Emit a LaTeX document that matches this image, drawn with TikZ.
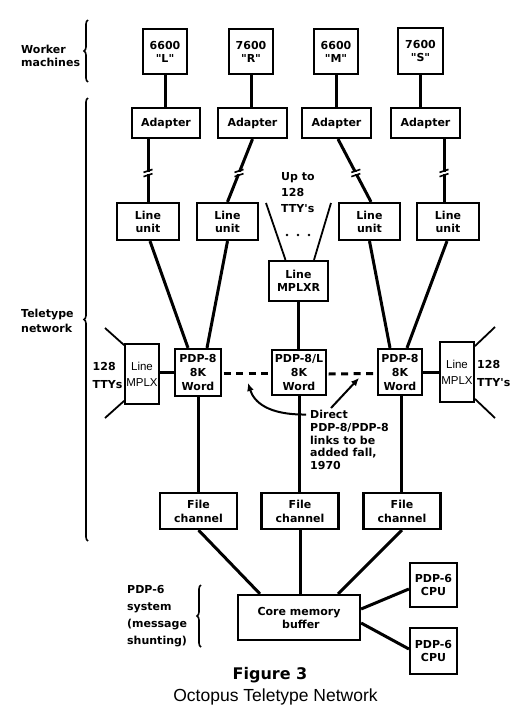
\documentclass[tikz,border=0pt]{standalone}
\usepackage{fontspec}
\newfontfamily\bdf{DejaVu Sans}
\newfontfamily\rgf{Liberation Sans}
\newcommand\bt{\bdf\bfseries}
\usetikzlibrary{calc,decorations.pathreplacing,arrows.meta}
\tikzset{
  box/.style={draw, line width=2.2pt, inner sep=0pt, align=center, font=\bt\fontsize{11}{13}\selectfont},
  rbox/.style={draw, line width=1.8pt, inner sep=0pt, align=center, font=\rgf\fontsize{11.5}{16}\selectfont},
  wire/.style={line width=3pt},
  thinwire/.style={line width=1.8pt},
  lbl/.style={inner sep=0pt, align=left, font=\bt\fontsize{11}{13}\selectfont},
  bracedeco/.style={decorate, decoration={brace, amplitude=4pt}, line width=1.6pt},
  brk/.pic={
    \fill[white] (-2.6,-1.3) rectangle (2.6,1.3);
    \draw[line width=1.6pt] (-4.5,-0.6) -- (4.5,-3.6);
    \draw[line width=1.6pt] (-4.5,3.6) -- (4.5,0.6);
  },
  arr/.style={line width=2pt, -{Latex[length=8pt,width=7pt]}}
}
\begin{document}
\begin{tikzpicture}[x=1pt,y=-1pt]
\useasboundingbox (0,0) rectangle (530,720);
% worker machines
\node[box, minimum width=44pt, minimum height=45pt] (w1) at (165,51.5) {6600\\"L"};
\node[box, minimum width=44pt, minimum height=45pt] (w2) at (251,51.5) {7600\\"R"};
\node[box, minimum width=44pt, minimum height=45pt] (w3) at (336,51.5) {6600\\"M"};
\node[box, minimum width=45pt, minimum height=46pt] (w4) at (420.5,51) {7600\\"S"};
% adapters
\node[box, minimum width=68pt, minimum height=30pt] (a1) at (166,123) {Adapter};
\node[box, minimum width=69pt, minimum height=30pt] (a2) at (252.5,123) {Adapter};
\node[box, minimum width=69pt, minimum height=30pt] (a3) at (336.5,123) {Adapter};
\node[box, minimum width=69pt, minimum height=30pt] (a4) at (425.5,123) {Adapter};
% line units
\node[box, minimum width=62pt, minimum height=37pt] (lu1) at (148,221.5) {Line\\unit};
\node[box, minimum width=61pt, minimum height=37pt] (lu2) at (227.5,221.5) {Line\\unit};
\node[box, minimum width=61pt, minimum height=37pt] (lu3) at (369.5,221.5) {Line\\unit};
\node[box, minimum width=62pt, minimum height=37pt] (lu4) at (448,221.5) {Line\\unit};
% line mplxr
\node[box, minimum width=59pt, minimum height=40pt] (mx) at (298.5,281) {Line\\MPLXR};
% PDP-8s
\node[box, minimum width=46pt, minimum height=47pt, font=\bt\fontsize{11}{14}\selectfont] (p1) at (198,372.5) {PDP-8\\8K\\Word};
\node[box, minimum width=54pt, minimum height=45pt, font=\bt\fontsize{11}{14}\selectfont] (p2) at (299,372.5) {PDP-8/L\\8K\\Word};
\node[box, minimum width=44pt, minimum height=46pt, font=\bt\fontsize{11}{14}\selectfont] (p3) at (400,372) {PDP-8\\8K\\Word};
% line mplx
\node[rbox, minimum width=34pt, minimum height=60pt] (m1) at (142,374) {Line\\MPLX};
\node[rbox, minimum width=34pt, minimum height=60pt] (m3) at (457,372) {Line\\MPLX};
% file channels
\node[box, minimum width=77pt, minimum height=36pt, font=\bt\fontsize{11}{14}\selectfont] (fc1) at (198.5,511) {File\\channel};
\node[box, minimum width=77pt, minimum height=36pt, font=\bt\fontsize{11}{14}\selectfont] (fc2) at (300,511) {File\\channel};
\node[box, minimum width=77pt, minimum height=36pt, font=\bt\fontsize{11}{14}\selectfont] (fc3) at (402,511) {File\\channel};
% core memory + CPUs
\node[box, minimum width=122pt, minimum height=45pt] (core) at (299,617.5) {Core memory\\\ buffer};
\node[box, minimum width=47pt, minimum height=44pt] (cpu1) at (433.5,585) {PDP-6\\CPU};
\node[box, minimum width=47pt, minimum height=46pt] (cpu2) at (433.5,651) {PDP-6\\CPU};

% worker -> adapter
\draw[wire] (w1.south) -- (w1.south |- a1.north);
\draw[wire] (w2.south) -- (w2.south |- a2.north);
\draw[wire] (w3.south) -- (w3.south |- a3.north);
\draw[wire] (w4.south) -- (w4.south |- a4.north);
% adapter -> line unit
\draw[wire] (a1.south -| lu1.north) -- (lu1.north) coordinate[pos=0.54] (b1);
\draw[wire] (a2.south) -- (lu2.north) coordinate[pos=0.54] (b2);
\draw[wire] ($(a3.south)+(1.5,0)$) -- ($(lu3.north)+(1.5,0)$) coordinate[pos=0.54] (b3);
\draw[wire] ($(lu4.north)+(-4,0)$) coordinate (l4t) -- (l4t |- a4.south) coordinate[pos=0.46] (b4);
\pic at (b1) {brk};
\pic at (b2) {brk};
\pic at (b3) {brk};
\pic at (b4) {brk};
% up to 128 TTYs
\node[lbl, anchor=north west, font=\bt\fontsize{11}{16}\selectfont] (upto) at (281,172) {Up to\\128\\TTY's};
\coordinate (t1) at (266,203);
\coordinate (t2) at (331,203);
\draw[thinwire] (t1) -- ($(mx.north)+(-13,0)$);
\draw[thinwire] (t2) -- ($(mx.north)+(15.5,0)$);
\fill (287,235) circle (1.4);
\fill (298,235) circle (1.4);
\fill (309,235) circle (1.4);
% line unit -> PDP-8
\draw[wire] ($(lu1.south)+(2,0)$) -- ($(p1.north)+(-10,0)$);
\draw[wire] (lu2.south) -- ($(p1.north)+(9,0)$);
\draw[wire] (lu3.south) -- ($(p3.north)+(-10,0)$);
\draw[wire] ($(lu4.south)+(-1,0)$) -- ($(p3.north)+(7,0)$);
\draw[wire] (mx.south) -- (mx.south |- p2.north);
% mplx links
\draw[wire] (m1.east |- p1.west) -- (p1.west);
\draw[wire] (p3.east) -- (p3.east -| m3.west);
% fans
\coordinate (fl1) at (105,328);
\coordinate (fl2) at (105,418);
\coordinate (fr1) at (495,327);
\coordinate (fr2) at (495,418);
\draw[thinwire] (fl1) -- ($(m1.north west)+(0,2)$);
\draw[thinwire] (fl2) -- ($(m1.south west)+(0,-4)$);
\draw[thinwire] (fr1) -- ($(m3.north east)+(0,5)$);
\draw[thinwire] (fr2) -- ($(m3.south east)+(0,-4)$);
\node[lbl, anchor=west, font=\bt\fontsize{11}{18}\selectfont] (ttyl) at (92.5,375) {128\\TTYs};
\node[lbl, anchor=west, font=\bt\fontsize{11}{18}\selectfont] (ttyr) at (477,373) {128\\TTY's};
% dashed links
\draw[wire, dash pattern=on 7pt off 5.5pt] ($(p1.east)+(1.5,1)$) -- ($(p2.west)+(-1.5,1)$);
\draw[wire, dash pattern=on 7pt off 5.5pt] ($(p2.east)+(1.5,1.5)$) -- ($(p3.west)+(-1.5,1.5)$);
% PDP-8 -> file channel
\draw[wire] (p1.south) -- (p1.south |- fc1.north);
\draw[wire] (p2.south) -- (p2.south |- fc2.north);
\draw[wire] ($(p3.south)+(1,0)$) coordinate (p3b) -- (p3b |- fc3.north);
% direct note
\node[lbl, anchor=north west, font=\bt\fontsize{11}{12.8}\selectfont] (dtxt) at (310,410) {Direct\\PDP-8/PDP-8\\links to be\\added fall,\\1970};
\coordinate (ar1) at (248,383);
\coordinate (ar2) at (359,378);
\draw[arr] ($(dtxt.north west)+(-4,4.5)$) .. controls (268,415) and (254,402) .. (ar1);
\draw[arr] ($(dtxt.north west)+(21,-2)$) -- (ar2);
% file channel -> core
\draw[wire] (fc1.south) -- ($(core.north)+(-39,0)$);
\draw[wire] (fc2.south) -- (fc2.south |- core.north);
\draw[wire] (fc3.south) -- ($(core.north)+(39,0)$);
\draw[wire] ($(core.east)+(0,-8.5)$) -- ($(cpu1.west)+(0,4)$);
\draw[wire] ($(core.east)+(0,5.5)$) -- ($(cpu2.west)+(0,-2)$);
% braces and group labels
\draw[bracedeco] (88,82) -- (88,20);
\node[lbl, anchor=west] (wm) at (21,55.5) {Worker\\machines};
\draw[bracedeco] (88,541) -- (88,98);
\node[lbl, anchor=west, font=\bt\fontsize{11}{15}\selectfont] (tn) at (21,320.5) {Teletype\\network};
\draw[bracedeco] (201,647) -- (201,585);
\node[lbl, anchor=west, font=\bt\fontsize{11}{17}\selectfont] (ps) at (127,616) {PDP-6\\system\\(message\\shunting)};
% caption
\node[inner sep=0pt, font=\bt\fontsize{16}{18}\selectfont] (fig) at (270,675) {Figure 3};
\node[inner sep=0pt, font=\rgf\fontsize{17.5}{20}\selectfont] (cap) at (275.5,697) {Octopus Teletype Network};
\end{tikzpicture}
\end{document}
